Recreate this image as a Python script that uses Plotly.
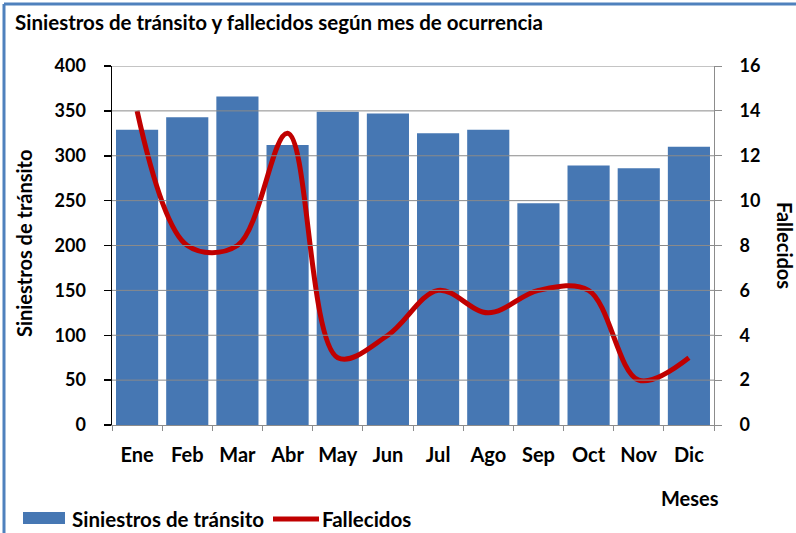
import plotly.graph_objects as go

meses = ["Ene", "Feb", "Mar", "Abr", "May", "Jun", "Jul", "Ago", "Sep", "Oct", "Nov", "Dic"]
siniestros = [329, 343, 366, 312, 349, 347, 325, 329, 247, 289, 286, 310]
fallecidos = [14, 8, 8, 13, 3, 4, 6, 5, 6, 6, 2, 3]
left_ticks = [0, 50, 100, 150, 200, 250, 300, 350, 400]
right_ticks = [0, 2, 4, 6, 8, 10, 12, 14, 16]

W, H = 796, 533
L, R, T, B = 112, 714, 66, 425
FONT = "Lato, 'Open Sans', sans-serif"
BAR_COLOR = "#4677B3"
LINE_COLOR = "#C00000"


def px(x):
    return (x - L) / (R - L)


def py(y):
    return (B - y) / (B - T)


fig = go.Figure()
fig.add_trace(go.Bar(
    x=meses, y=siniestros, name="Siniestros de tránsito",
    marker=dict(color=BAR_COLOR, line=dict(width=0)), yaxis="y", showlegend=False,
))
fig.add_trace(go.Scatter(
    x=meses, y=fallecidos, name="Fallecidos", mode="lines",
    line=dict(color=LINE_COLOR, width=5, shape="spline", smoothing=1.0),
    yaxis="y2", showlegend=False,
))

shapes = []
for v in left_ticks[1:]:
    shapes.append(dict(type="line", xref="x domain", yref="y", x0=0, x1=1, y0=v, y1=v,
                       line=dict(color="#8A8A8A", width=1), layer="above"))
# outer frame (blue)
shapes.append(dict(type="line", xref="paper", yref="paper", x0=px(4), x1=px(W + 10),
                   y0=py(4), y1=py(4), line=dict(color="#4F81BD", width=3)))
shapes.append(dict(type="line", xref="paper", yref="paper", x0=px(4), x1=px(4),
                   y0=py(4), y1=py(H + 10), line=dict(color="#4F81BD", width=3)))
# legend swatches
shapes.append(dict(type="rect", xref="paper", yref="paper", x0=px(23), x1=px(65),
                   y0=py(512), y1=py(524), fillcolor=BAR_COLOR, line=dict(width=0)))
shapes.append(dict(type="line", xref="paper", yref="paper", x0=px(273), x1=px(319),
                   y0=py(519), y1=py(519), line=dict(color=LINE_COLOR, width=5)))

annotations = [
    dict(text="<b>Siniestros de tránsito y fallecidos según mes de ocurrencia</b>",
         xref="paper", yref="paper", x=px(13), y=py(22), xanchor="left", yanchor="middle",
         showarrow=False, font=dict(family=FONT, size=20.5, color="black")),
    dict(text="<b>Siniestros de tránsito</b>", textangle=-90,
         xref="paper", yref="paper", x=px(24), y=py(243), xanchor="center", yanchor="middle",
         showarrow=False, font=dict(family=FONT, size=20, color="black")),
    dict(text="<b>Fallecidos</b>", textangle=90,
         xref="paper", yref="paper", x=px(785), y=py(245), xanchor="center", yanchor="middle",
         showarrow=False, font=dict(family=FONT, size=20, color="black")),
    dict(text="<b>Meses</b>",
         xref="paper", yref="paper", x=px(690), y=py(498), xanchor="center", yanchor="middle",
         showarrow=False, font=dict(family=FONT, size=20, color="black")),
    dict(text="<b>Siniestros de tránsito</b>",
         xref="paper", yref="paper", x=px(70), y=py(519), xanchor="left", yanchor="middle",
         showarrow=False, font=dict(family=FONT, size=20.5, color="black")),
    dict(text="<b>Fallecidos</b>",
         xref="paper", yref="paper", x=px(320), y=py(519), xanchor="left", yanchor="middle",
         showarrow=False, font=dict(family=FONT, size=20.5, color="black")),
]

fig.update_layout(
    width=W, height=H,
    margin=dict(l=L, r=W - R, t=T, b=H - B, pad=0, autoexpand=False),
    paper_bgcolor="white", plot_bgcolor="white",
    font=dict(family=FONT, size=18, color="black"),
    bargap=0.16,
    showlegend=False,
    hovermode=False,
    xaxis=dict(
        type="category", showgrid=False, showline=True, linecolor="#8C8C8C", linewidth=1,
        ticks="outside", tickson="boundaries", ticklen=5, tickcolor="#8C8C8C",
        tickfont=dict(family=FONT, size=20, color="black", weight="bold"),
        ticklabelstandoff=12, range=[-0.5, 11.5], fixedrange=True,
    ),
    yaxis=dict(
        range=[0, 400], tickvals=left_ticks, showgrid=False, zeroline=False,
        showline=True, linecolor="black", linewidth=1.5,
        ticks="outside", ticklen=7, tickcolor="black", tickwidth=1.5,
        tickfont=dict(family=FONT, size=18, color="black", weight="bold"),
        ticklabelstandoff=14, fixedrange=True,
    ),
    yaxis2=dict(
        range=[0, 16], tickvals=right_ticks, overlaying="y", side="right",
        showgrid=False, zeroline=False, showline=True, linecolor="#8C8C8C", linewidth=1,
        ticks="outside", ticklen=7, tickcolor="#8C8C8C",
        tickfont=dict(family=FONT, size=18, color="black", weight="bold"),
        ticklabelstandoff=14, fixedrange=True,
    ),
    shapes=shapes,
    annotations=annotations,
)

fig.write_html(
    "out.html",
    config={"displayModeBar": False, "staticPlot": True},
    post_script="document.body.style.margin='0';document.body.style.overflow='hidden';",
)
